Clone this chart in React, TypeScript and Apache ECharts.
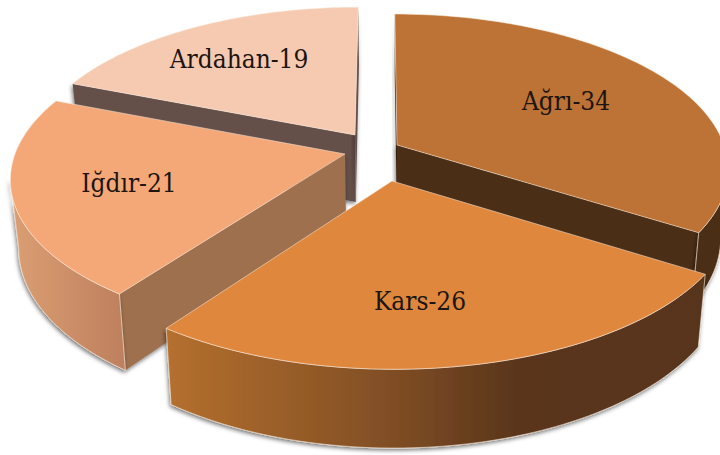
import React, { useEffect, useRef } from "react";
import * as echarts from "echarts";

// Data, clockwise from 12 o'clock
const provinces = ["Ağrı", "Kars", "Iğdır", "Ardahan"];
const shares = [34, 26, 21, 19];

// Painter's order (back to front), as indices into the lists above
const paintOrder = [3, 0, 2, 1];

// Projection of each exploded wedge
const tilt = 0.15;
const vanishX = 380;
const bottomVanishX = 390;
const bottomShrink = 0.978;
const wallDepth = 67;

const wedgeLayout = [
  { ax: 397, ay: 145, rx: 327, ry: 150.6, labelX: 566, labelY: 101 },
  { ax: 392, ay: 181, rx: 340, ry: 160, labelX: 420, labelY: 301 },
  { ax: 345, ay: 154, rx: 330, ry: 152, labelX: 129, labelY: 183 },
  { ax: 355, ay: 135, rx: 322, ry: 147, labelX: 239, labelY: 59 },
];

const topColors = ["#BD7335", "#E0873E", "#F4A878", "#F6CAB1"];
const cutColors = ["#4B2D14", "#57341A", "#9E6F4E", "#65504A"];
const rimStops = [
  [[0, "#4B2D14"], [1, "#4B2D14"]],
  [[0, "#B5702E"], [0.43, "#7F4D24"], [0.65, "#5A361B"], [1, "#57341A"]],
  [[0, "#DA9E72"], [1, "#BF805E"]],
  [[0, "#65504A"], [1, "#65504A"]],
];
const rimRange = [[397, 723], [164, 703], [14, 122], [30, 358]];

const total = shares.reduce((a, b) => a + b, 0);
const startShare = (i: number) => shares.slice(0, i).reduce((a, b) => a + b, 0);

function renderWedge(params: any, api: any) {
  const idx = paintOrder[params.dataIndex];
  const value = api.value(0);
  const g = wedgeLayout[idx];
  const a0 = (startShare(idx) / total) * Math.PI * 2;
  const a1 = a0 + (value / total) * Math.PI * 2;

  const project = (angle: number, r: number) => {
    const X = Math.sin(angle) * r;
    const Y = Math.cos(angle) * r;
    const w = 1 + tilt * Y;
    return {
      w,
      x: vanishX + (g.ax - vanishX + g.rx * X) / w,
      y: g.ay - (g.ry * Y) / w,
    };
  };
  const top = (angle: number, r: number) => {
    const p = project(angle, r);
    return [p.x, p.y];
  };
  const bottom = (angle: number, r: number) => {
    const p = project(angle, r);
    return [bottomVanishX + (p.x - bottomVanishX) * bottomShrink, p.y + wallDepth / p.w];
  };

  const steps = 80;
  const arcTop: number[][] = [];
  const wallTop: number[][] = [];
  const wallBottom: number[][] = [];
  for (let i = 0; i <= steps; i++) {
    const t = a0 + ((a1 - a0) * i) / steps;
    const here = top(t, 1);
    arcTop.push(here);
    // The outer wall shows only where the rim runs right to left on screen
    const before = top(t - 0.01, 1);
    const after = top(t + 0.01, 1);
    if (after[0] < before[0]) {
      wallTop.push(here);
      wallBottom.push(bottom(t, 1));
    }
  }

  const shadow = { shadowColor: "rgba(0,0,0,0.55)", shadowBlur: 4, shadowOffsetX: -1, shadowOffsetY: 2 };
  const edge = "rgba(250,235,220,0.75)";

  // A cut face shows only when the wall hangs down on the outer side of its edge
  const apex = top(a0, 0);
  const inner = top((a0 + a1) / 2, 0.5);
  const faces = (angle: number) => {
    const rim = top(angle, 1);
    const dx = rim[0] - apex[0];
    const dy = rim[1] - apex[1];
    const crossInner = dx * (inner[1] - apex[1]) - dy * (inner[0] - apex[0]);
    return dx * crossInner < 0;
  };
  const cutWalls = [a0, a1].filter(faces).map((angle) => ({
    type: "polygon",
    shape: { points: [top(angle, 0), top(angle, 1), bottom(angle, 1), bottom(angle, 0)] },
    style: { fill: cutColors[idx], ...shadow },
  }));

  const outerWall = wallTop.length
    ? [
        {
          type: "polygon",
          shape: { points: [...wallTop, ...wallBottom.slice().reverse()] },
          style: {
            fill: new echarts.graphic.LinearGradient(rimRange[idx][0], 0, rimRange[idx][1], 0, rimStops[idx].map(([offset, color]) => ({ offset, color })) as any, true),
            stroke: edge,
            lineWidth: 0.8,
            ...shadow,
          },
        },
      ]
    : [];

  return {
    type: "group",
    children: [
      ...cutWalls,
      ...outerWall,
      {
        type: "polygon",
        shape: { points: [apex, ...arcTop] },
        style: { fill: topColors[idx], stroke: edge, lineWidth: 0.7 },
      },
      {
        type: "text",
        x: g.labelX,
        y: g.labelY,
        style: {
          text: `${provinces[idx]}-${value}`,
          fill: "#1c1512",
          font: '26px "DejaVu Serif Condensed", "DejaVu Serif", serif',
          textAlign: "center",
          textVerticalAlign: "middle",
        },
      },
    ],
  };
}

export default function App() {
  const ref = useRef<HTMLDivElement>(null);
  useEffect(() => {
    const chart = echarts.init(ref.current!, undefined, { renderer: "svg" });
    chart.setOption({
      animation: false,
      backgroundColor: "#ffffff",
      series: [
        {
          type: "custom",
          coordinateSystem: "none",
          silent: true,
          clip: false,
          renderItem: renderWedge,
          data: paintOrder.map((i) => ({ name: provinces[i], value: [shares[i]] })),
        },
      ],
    });
    return () => chart.dispose();
  }, []);
  return <div ref={ref} style={{ position: "fixed", left: 0, top: 0, width: 720, height: 455 }} />;
}
